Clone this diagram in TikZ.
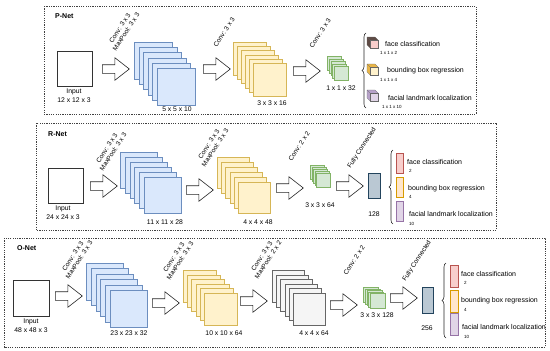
\documentclass[tikz,border=0pt]{standalone}
\usepackage{fontspec}
\setmainfont{Liberation Sans}
\usetikzlibrary{shapes.arrows,decorations.pathreplacing}
\definecolor{bluef}{HTML}{DAE8FC}\definecolor{bluel}{HTML}{6C8EBF}
\definecolor{yelf}{HTML}{FFF2CC}\definecolor{yell}{HTML}{D6B656}
\definecolor{grnf}{HTML}{D5E8D4}\definecolor{grnl}{HTML}{82B366}
\definecolor{gryf}{HTML}{F5F5F5}\definecolor{gryl}{HTML}{666666}
\definecolor{pnkf}{HTML}{F8CECC}\definecolor{pnkl}{HTML}{B85450}
\definecolor{orgf}{HTML}{FFE6CC}\definecolor{orgl}{HTML}{D79B00}
\definecolor{purf}{HTML}{E1D5E7}\definecolor{purl}{HTML}{9673A6}
\definecolor{barf}{HTML}{BAC8D3}\definecolor{barl}{HTML}{23445D}
\definecolor{brnd}{HTML}{5E4B45}\definecolor{gold}{HTML}{E8B548}\definecolor{purd}{HTML}{B7A2C9}
\newcommand\mystack[9]{% prefix,x,y,w,h,dx,dy,last,colour
  \foreach \i in {0,...,#8}{\node[layer,fill=#9f,draw=#9l,minimum width=#4pt,minimum height=#5pt] (#1\i) at ({#2+#6*\i},{#3+#7*\i}) {};}}
\newcommand\mycube[5]{% x,y (front top-left),size,side colour,front colour
  \fill[#4,draw=black!60,line width=0.3pt] (#1-3,#2-3) -- (#1+#3-3,#2-3) -- (#1+#3,#2) -- (#1+#3,#2+#3) -- (#1,#2+#3) -- (#1-3,#2+#3-3) -- cycle;
  \draw[fill=#5,draw=black!60,line width=0.3pt] (#1,#2) rectangle (#1+#3,#2+#3);
  \draw[black!60,line width=0.3pt] (#1-3,#2-3) -- (#1,#2);}
\newcommand\shaft{\rule{0pt}{8pt}}
\begin{document}
\begin{tikzpicture}[x=1pt,y=-1pt,
  frame/.style={draw=black!75,dash pattern=on 1.2pt off 1.1pt,line width=0.6pt},
  inbox/.style={draw=black!80,line width=0.8pt,fill=white,minimum width=35pt,minimum height=35pt,inner sep=0pt,anchor=north west},
  layer/.style={anchor=north west,inner sep=0pt,line width=0.5pt},
  blk/.style={single arrow,draw=black!85,fill=white,line width=0.6pt,minimum height=27pt,minimum width=22pt,
    single arrow head extend=7pt,single arrow tip angle=76,inner sep=0pt,anchor=west},
  txt/.style={font=\fontsize{6.8}{7.8}\selectfont,inner sep=0pt},
  lbl/.style={font=\fontsize{6.5}{7.4}\selectfont,rotate=57,align=center,inner sep=0pt},
  sml/.style={font=\fontsize{4.5}{5}\selectfont,inner sep=0pt,anchor=west},
  ttl/.style={font=\bfseries\fontsize{7}{8}\selectfont,inner sep=0pt,anchor=west},
  outt/.style={font=\fontsize{7}{8}\selectfont,inner sep=0pt,anchor=west},
  bar/.style={anchor=north west,inner sep=0pt,line width=0.5pt,minimum width=7pt,minimum height=20pt},
  brc/.style={decorate,decoration={brace,amplitude=4pt},draw=black!85,line width=0.6pt}]
\useasboundingbox (0,0) rectangle (550,351);
% ---------------- P-Net
\draw[frame] (44,6) rectangle (476,114);
\node[ttl] (pt) at (55,16) {P-Net};
\node[inbox] (pin) at (57,51) {};
\node[txt] (pin1) at (74,92) {Input};
\node[txt] (pin2) at (74,100) {12 x 12 x 3};
\node[blk] (pa1) at (102,69) {\shaft};
\node[lbl] (pl1) at (123,30) {Conv: 3 x 3\\MaxPool: 3 x 3};
\mystack{pb}{134}{42}{38}{37}{4.6}{5.2}{5}{blue}
\node[txt] (pbt) at (177,109) {5 x 5 x 10};
\node[blk] (pa2) at (203,69) {\shaft};
\node[lbl] (pl2) at (224,32) {Conv: 3 x 3};
\mystack{py}{233}{42}{33}{33}{4}{4.2}{5}{yel}
\node[txt] (pyt) at (272,103) {3 x 3 x 16};
\node[blk] (pa3) at (293,71) {\shaft};
\node[lbl] (pl3) at (320,33) {Conv: 3 x 3};
\mystack{pg}{327}{56}{14}{14}{1.75}{2.5}{4}{grn}
\node[txt] (pgt) at (341,88) {1 x 1 x 32};
\coordinate (pbr1) at (366,108); \coordinate (pbr2) at (366,33);
\draw[brc] (pbr1) -- (pbr2);
\mycube{370}{40}{8}{brnd}{pnkf}
\mycube{370}{67}{8}{gold}{yelf}
\mycube{370}{93}{8}{purd}{purf}
\node[outt] (po1) at (385,44) {face classification};
\node[outt] (po2) at (387,71) {bounding box regression};
\node[outt] (po3) at (388,98) {facial landmark localization};
\node[sml] (ps1) at (380,53) {1 x 1 x 2};
\node[sml] (ps2) at (380,80) {1 x 1 x 4};
\node[sml] (ps3) at (382,107) {1 x 1 x 10};
% ---------------- R-Net
\draw[frame] (36,123) rectangle (496,230);
\node[ttl] (rt) at (48,134) {R-Net};
\node[inbox] (rin) at (48,168) {};
\node[txt] (rin1) at (63,209) {Input};
\node[txt] (rin2) at (63,217) {24 x 24 x 3};
\node[blk] (ra1) at (90,186) {\shaft};
\node[lbl] (rl1) at (110,150) {Conv: 3 x 3\\MaxPool: 3 x 3};
\mystack{rb}{120}{152}{37}{36}{4.8}{5}{5}{blue}
\node[txt] (rbt) at (165,222) {11 x 11 x 28};
\node[blk] (ra2) at (186,190) {\shaft};
\node[lbl] (rl2) at (212,146) {Conv: 3 x 3\\MaxPool: 3 x 3};
\mystack{ry}{217}{157}{32}{31}{4.2}{5}{5}{yel}
\node[txt] (ryt) at (258,222) {4 x 4 x 48};
\node[blk] (ra3) at (276,188) {\shaft};
\node[lbl] (rl3) at (299,146) {Conv: 2 x 2};
\mystack{rg}{310}{165}{14}{14}{1.5}{2}{4}{grn}
\node[txt] (rgt) at (320,205) {3 x 3 x 64};
\node[blk] (ra4) at (336,186) {\shaft};
\node[lbl] (rl4) at (362,148) {Fully Connected};
\node[bar,fill=barf,draw=barl,minimum width=12pt,minimum height=25pt] (rfc) at (368,173) {};
\node[txt] (rfct) at (374,214) {128};
\coordinate (rbr1) at (393,224); \coordinate (rbr2) at (393,150);
\draw[brc] (rbr1) -- (rbr2);
\node[bar,fill=pnkf,draw=pnkl] (rc1) at (396,153) {};
\node[bar,fill=orgf,draw=orgl] (rc2) at (396,177) {};
\node[bar,fill=purf,draw=purl] (rc3) at (396,201) {};
\node[outt] (ro1) at (407,162) {face classification};
\node[outt] (ro2) at (408,189) {bounding box regression};
\node[outt] (ro3) at (409,214) {facial landmark localization};
\node[sml] (rs1) at (409,171) {2};
\node[sml] (rs2) at (409,197) {4};
\node[sml] (rs3) at (409,224) {10};
% ---------------- O-Net
\draw[frame] (4,238) rectangle (545,347);
\node[ttl] (ot) at (17,248) {O-Net};
\node[inbox,minimum width=36pt,minimum height=36pt] (oin) at (13,280) {};
\node[txt] (oin1) at (31,322) {Input};
\node[txt] (oin2) at (31,330) {48 x 48 x 3};
\node[blk] (oa1) at (55,296) {\shaft};
\node[lbl] (ol1) at (76,258) {Conv: 3 x 3\\MaxPool: 3 x 3};
\mystack{ob}{86}{263}{37}{37}{4.8}{5.4}{5}{blue}
\node[txt] (obt) at (129,333) {23 x 23 x 32};
\node[blk] (oa2) at (152,303) {\shaft};
\node[lbl] (ol2) at (177,259) {Conv: 3 x 3\\MaxPool: 3 x 3};
\mystack{oy}{183}{270}{33}{32}{4.2}{4.6}{5}{yel}
\node[txt] (oyt) at (224,333) {10 x 10 x 64};
\node[blk] (oa3) at (240,301) {\shaft};
\node[lbl] (ol3) at (265,258) {Conv: 3 x 3\\MaxPool: 2 x 2};
\mystack{og}{272}{270}{32}{32}{4.2}{4.6}{5}{gry}
\node[txt] (ogt) at (314,333) {4 x 4 x 64};
\node[blk] (oa4) at (330,305) {\shaft};
\node[lbl] (ol4) at (354,260) {Conv: 2 x 2};
\mystack{on}{363}{287}{15}{15}{1.75}{1.5}{4}{grn}
\node[txt] (ont) at (377,315) {3 x 3 x 128};
\node[blk] (oa5) at (390,298) {\shaft};
\node[lbl] (ol5) at (417,261) {Fully Connected};
\node[bar,fill=barf,draw=barl,minimum width=11pt,minimum height=26pt] (ofc) at (422,287) {};
\node[txt] (ofct) at (427,328) {256};
\coordinate (obr1) at (446,338); \coordinate (obr2) at (446,263);
\draw[brc] (obr1) -- (obr2);
\node[bar,fill=pnkf,draw=pnkl,minimum width=8pt,minimum height=22pt] (oc1) at (450,265) {};
\node[bar,fill=orgf,draw=orgl,minimum width=8pt,minimum height=22pt] (oc2) at (450,290) {};
\node[bar,fill=purf,draw=purl,minimum width=8pt,minimum height=22pt] (oc3) at (450,313) {};
\node[outt] (oo1) at (461,274) {face classification};
\node[outt] (oo2) at (461,301) {bounding box regression};
\node[outt] (oo3) at (462,327) {facial landmark localization};
\node[sml] (os1) at (464,283) {2};
\node[sml] (os2) at (464,310) {4};
\node[sml] (os3) at (464,337) {10};
\end{tikzpicture}
\end{document}
